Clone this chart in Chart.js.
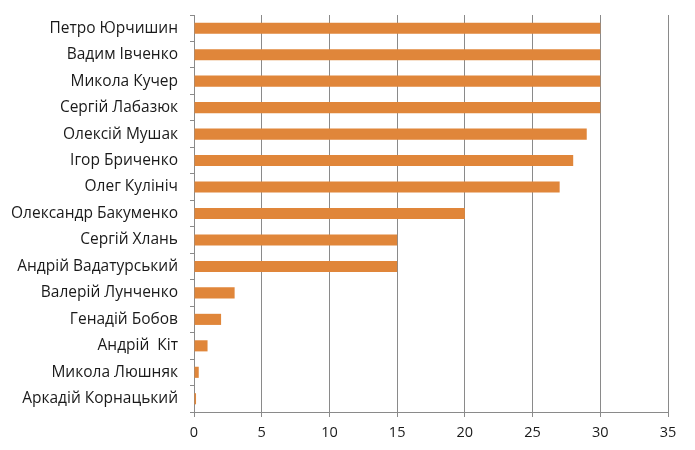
<!DOCTYPE html>
<html>
<head>
<meta charset="utf-8">
<script src="https://cdn.jsdelivr.net/npm/chart.js@4"></script>
<style>
  html, body { margin: 0; padding: 0; background: #fff; }
  #wrap { width: 695px; height: 450px; }
</style>
</head>
<body>
<div id="wrap"><canvas id="myChart" width="695" height="450"></canvas></div>
<script>
const names = [
  "Петро Юрчишин",
  "Вадим Івченко",
  "Микола Кучер",
  "Сергій Лабазюк",
  "Олексій Мушак",
  "Ігор Бриченко",
  "Олег Кулініч",
  "Олександр Бакуменко",
  "Сергій Хлань",
  "Андрій Вадатурський",
  "Валерій Лунченко",
  "Генадій Бобов",
  "Андрій  Кіт",
  "Микола Люшняк",
  "Аркадій Корнацький"
];
const values = [30, 30, 30, 30, 29, 28, 27, 20, 15, 15, 3, 2, 1, 0.35, 0.15];
const xMin = 0;
const xMax = 35;
const xStep = 5;

const ctx = document.getElementById("myChart").getContext("2d");

new Chart(ctx, {
  type: "bar",
  data: {
    labels: names,
    datasets: [
      {
        data: values,
        backgroundColor: "#E0863A",
        borderWidth: 0,
        categoryPercentage: 1,
        barPercentage: 0.42,
      },
    ],
  },
  options: {
    indexAxis: "y",
    responsive: false,
    animation: false,
    layout: {
      padding: { top: 15, right: 27, left: 0, bottom: 0 },
    },
    plugins: {
      legend: { display: false },
      tooltip: { enabled: false },
    },
    scales: {
      x: {
        min: xMin,
        max: xMax,
        ticks: {
          stepSize: xStep,
          color: "#1a1a1a",
          font: { family: "'Open Sans', sans-serif", size: 14.5 },
          padding: 7,
          maxRotation: 0,
        },
        grid: {
          color: "#8a8a8a",
          lineWidth: 1,
          tickLength: 5,
        },
        border: { color: "#8a8a8a" },
        afterFit: function (scale) {
          scale.height = 38;
          scale.paddingLeft = 0;
          scale.paddingRight = 0;
        },
      },
      y: {
        ticks: {
          color: "#1a1a1a",
          font: { family: "'Open Sans', sans-serif", size: 15.5 },
          padding: 12,
          autoSkip: false,
        },
        grid: {
          offset: true,
          drawOnChartArea: false,
          color: "#8a8a8a",
          tickLength: 4,
        },
        border: { color: "#8a8a8a" },
        afterFit: function (scale) {
          scale.width = 194;
          scale.paddingTop = 0;
          scale.paddingBottom = 0;
        },
      },
    },
  },
});
</script>
</body>
</html>
